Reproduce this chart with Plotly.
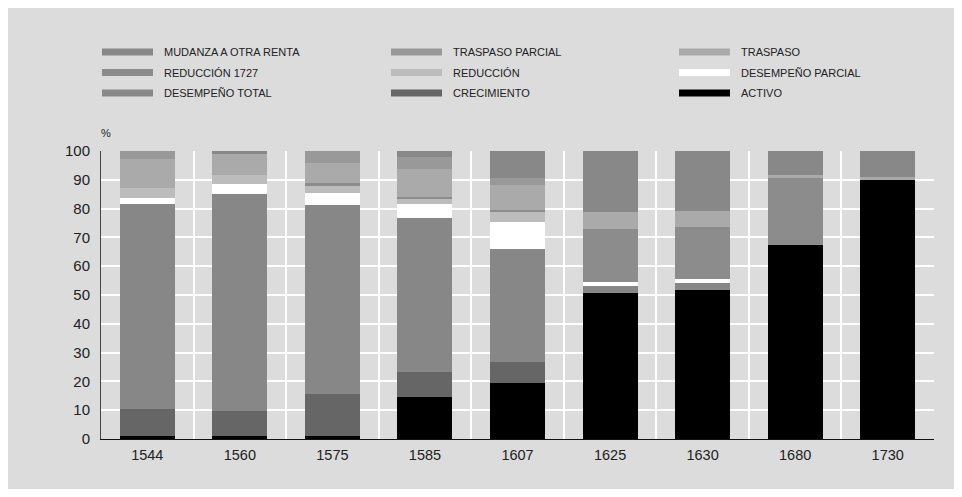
import plotly.graph_objects as go

years = ['1544', '1560', '1575', '1585', '1607', '1625', '1630', '1680', '1730']

# stack order, bottom to top
activo = [1.2, 0.9, 1.2, 14.6, 19.3, 50.7, 51.7, 67.4, 89.9]
crecimiento = [9.3, 8.9, 14.5, 8.5, 7.3, 0, 0, 0, 0]
desempeno_total = [71.0, 75.2, 65.5, 53.5, 39.5, 2.4, 2.4, 0, 0]
desempeno_parcial = [2.2, 3.5, 4.1, 5.1, 9.1, 1.5, 1.6, 0, 0]
reduccion = [3.6, 3.0, 2.5, 1.6, 3.5, 0, 0, 0, 0]
reduccion_1727 = [0, 0, 1.0, 0.7, 0.7, 18.3, 17.9, 23.2, 0]
traspaso = [9.8, 7.3, 6.9, 9.6, 8.7, 5.8, 5.5, 0.9, 1.0]
traspaso_parcial = [2.9, 0, 4.3, 4.3, 2.4, 0, 0, 0, 0]
mudanza = [0, 1.2, 0, 2.1, 9.5, 21.3, 20.9, 8.5, 9.1]

series = [
    ('ACTIVO', activo, '#000000'),
    ('CRECIMIENTO', crecimiento, '#666666'),
    ('DESEMPEÑO TOTAL', desempeno_total, '#878787'),
    ('DESEMPEÑO PARCIAL', desempeno_parcial, '#ffffff'),
    ('REDUCCIÓN', reduccion, '#bcbcbc'),
    ('REDUCCIÓN 1727', reduccion_1727, '#8c8c8c'),
    ('TRASPASO', traspaso, '#aaaaaa'),
    ('TRASPASO PARCIAL', traspaso_parcial, '#999999'),
    ('MUDANZA A OTRA RENTA', mudanza, '#888888'),
]

# legend layout, rows of three from the top of the stack
legend_order = [
    'MUDANZA A OTRA RENTA', 'TRASPASO PARCIAL', 'TRASPASO',
    'REDUCCIÓN 1727', 'REDUCCIÓN', 'DESEMPEÑO PARCIAL',
    'DESEMPEÑO TOTAL', 'CRECIMIENTO', 'ACTIVO',
]

# page has an 8px body margin, so the figure sits at (8, 8)
W, H = 946, 481
L, R, T, B = 93, 20, 143, 50
pw, ph = W - L - R, H - T - B


def px(x):
    return (x - 8 - L) / pw


def py(y):
    return (H - B - (y - 8)) / ph


fig = go.Figure()
for name, vals, col in series:
    fig.add_bar(x=years, y=vals, name=name, marker_color=col,
                marker_line_width=0, showlegend=False)

shapes = []
annotations = [dict(text='%', xref='paper', yref='paper', x=px(99), y=py(133),
                    xanchor='left', yanchor='middle', showarrow=False,
                    font=dict(size=11, color='#222'))]

colors = {n: c for n, _, c in series}
col_x = [102, 391, 679]
row_y = [52, 72.5, 93]
for i, name in enumerate(legend_order):
    cx = col_x[i % 3]
    ry = row_y[i // 3]
    shapes.append(dict(type='rect', xref='paper', yref='paper', layer='above',
                       x0=px(cx), x1=px(cx + 51), y0=py(ry + 3.5), y1=py(ry - 3.5),
                       fillcolor=colors[name], line_width=0))
    annotations.append(dict(text=name, xref='paper', yref='paper',
                            x=px(cx + 60), y=py(ry), xanchor='left', yanchor='middle',
                            showarrow=False, font=dict(size=11, color='#222')))

fig.update_layout(
    barmode='stack',
    bargap=0.406,
    width=W, height=H,
    margin=dict(l=L, r=R, t=T, b=B),
    paper_bgcolor='#dcdcdc',
    plot_bgcolor='#dcdcdc',
    font=dict(family='Liberation Sans, Arial, sans-serif', size=13, color='#222'),
    shapes=shapes,
    annotations=annotations,
    showlegend=False,
)
fig.update_xaxes(type='category', tickson='boundaries', showgrid=True,
                 gridcolor='white', gridwidth=2, ticks='', showline=True,
                 linecolor='#111', linewidth=1, ticklabelstandoff=3,
                 tickfont=dict(size=14.5))
fig.update_yaxes(range=[0, 100], dtick=10, showgrid=True, gridcolor='white',
                 gridwidth=2, zeroline=False, showline=True, linecolor='#444',
                 linewidth=1, ticks='', ticklabelstandoff=7,
                 tickfont=dict(size=15))

fig.write_html('out.html')
